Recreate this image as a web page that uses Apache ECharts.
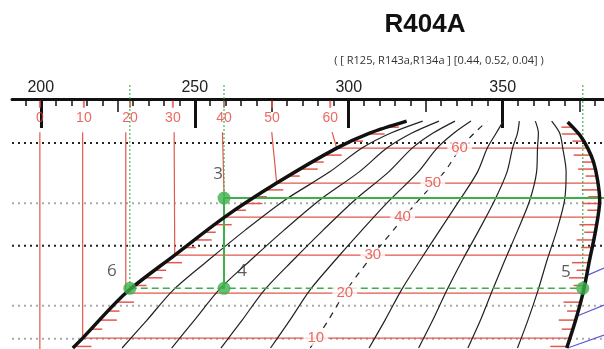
<!DOCTYPE html>
<html>
<head>
<meta charset="utf-8">
<script src="https://cdn.jsdelivr.net/npm/echarts@6/dist/echarts.min.js"></script>
<style>
html,body{margin:0;padding:0;background:#fff;}
#chart{width:604px;height:349px;}
</style>
</head>
<body>
<div id="chart"></div>
<script>
// x: enthalpy (kJ/kg), y: pressure (bar, log scale)
var enthalpyTicks = [200, 250, 300, 350];
var midTicks = [225, 275, 325, 375];
var gridDark = [30, 15];
var gridLight = [20, 10, 8];

var satLiquid = [[210.4,7.52],[213.6,8.04],[227.6,10.9],[243.5,14.08],[259.7,18.2],[276.6,22.9],[296.1,29.0],[306.8,32.1],[318.8,34.8]];
var satVapor = [[370.8,7.52],[373.7,9.08],[376.3,11.12],[378.2,13.6],[380.2,16.67],[381.5,20.4],[380.8,23.37],[379.5,26.4],[377.6,29.0],[375.0,31.7],[371.1,34.6]];

// constant quality lines x = 0.1 .. 0.9, read at these pressures
var qualityP = [7.52, 9.08, 11.12, 13.6, 16.67, 20.4, 24.66, 29.0, 32.1, 34.8];
var q1 = [226.4, 234.5, 243.0, 254.4, 266.4, 279.2, 293.7, 304.3, 313.7, 324.0];
var q2 = [242.5, 249.9, 257.8, 268.1, 279.0, 290.5, 303.3, 312.4, 320.5, 329.3];
var q3 = [258.5, 265.4, 272.6, 281.9, 291.7, 301.9, 312.9, 320.6, 327.4, 334.5];
var q4 = [274.6, 280.9, 287.4, 295.6, 304.3, 313.3, 322.5, 328.7, 334.2, 339.7];
var q5 = [287.5, 293.4, 299.3, 306.5, 314.5, 322.7, 331.0, 336.3, 340.8, 345.0];
var q6 = [306.6, 311.8, 317.1, 323.2, 329.6, 336.0, 341.8, 345.0, 347.9, 350.2];
var q7 = [322.7, 327.3, 331.9, 336.9, 342.3, 347.4, 351.4, 353.2, 354.8, 355.4];
var q8 = [338.7, 342.8, 346.7, 350.7, 354.9, 358.8, 361.0, 361.3, 361.6, 360.6];
var q9 = [354.8, 358.2, 361.5, 364.4, 367.6, 370.1, 370.6, 369.5, 368.5, 365.9];

// isotherms (°C)
var isoTemps = [0, 10, 20, 30, 40, 50, 60];
var isoP = [null, 8.04, 10.9, 14.08, 18.2, 22.9, 29.0];
var isoTopH = [199.7, 213.6, 227.6, 243.3, 259.0, 275.0, 294.6];
var isoLiqH = [199.7, 213.6, 227.6, 243.5, 259.7, 276.6, 296.1];
var isoVapH = [null, 371.8, 376.1, 378.6, 381.2, 380.8, 377.6];
var isoLabelH = [null, 289.3, 298.7, 307.8, 317.5, 327.3, 336.0];
var topLabelH = [199.7, 214.0, 229.0, 242.9, 259.5, 275.1, 294.0];
var isoTopP = 32.3, topLabelP = 35.6, topTickP = 39.0;

// 2 °C hatch marks along the saturation lines
var hatchP = [7.6, 8.54, 9.08, 9.65, 10.25, 11.47, 12.08, 12.71, 13.38, 14.82, 15.6, 16.43, 17.29,
  19.06, 19.95, 20.89, 21.87, 24.01, 25.17, 26.39, 27.66, 30.4, 31.9, 33.4];

// blue lines in the superheated corner
var blue1 = [[377.6,12.3],[382.9,12.9]];
var blue2 = [[373.4,9.27],[382.9,10.05]];
var blue3 = [[371.1,7.52],[382.9,8.2]];

// cycle points
var pointNames = ['3', '4', '5', '6'];
var pointH = [259.5, 259.5, 376.0, 228.9];
var pointP = [20.7, 11.25, 11.25, 11.25];

var H_MIN = 190.65, H_MAX = 382.9, P_MIN = 7.47, P_MAX = 40.4;
var RED = '#e4574c', LABEL_RED = '#e8423a', GREEN = '#3cb04a', DARK = '#111';

var chart = echarts.init(document.getElementById('chart'));
var series = [];

function line(data, color, width, type, z, extra) {
  var s = {
    type: 'line', data: data, symbol: 'none', showSymbol: false, silent: true,
    animation: false, z: z,
    lineStyle: {color: color, width: width, type: type || 'solid'}
  };
  for (var k in extra) s[k] = extra[k];
  series.push(s);
}

// dotted pressure grid
gridDark.forEach(function (p) {
  line([[H_MIN, p], [H_MAX, p]], '#222', 2, [2, 4], 1);
});
gridLight.forEach(function (p) {
  line([[H_MIN, p], [H_MAX, p]], '#aaa', 2, [2, 4], 1);
});

// red isotherms
isoTemps.forEach(function (t, i) {
  if (isoP[i] === null) {
    line([[isoTopH[i], isoTopP], [isoLiqH[i], 7.3]], RED, 1.2, 'solid', 2);
  } else {
    line([[isoTopH[i], isoTopP], [isoLiqH[i], isoP[i]], [isoVapH[i], isoP[i]]], RED, 1.2, 'solid', 2);
  }
});
series.push({
  type: 'scatter', silent: true, animation: false, z: 2,
  symbol: 'rect', symbolSize: [2, 7], itemStyle: {color: RED},
  data: topLabelH.map(function (h) { return [h, topTickP]; })
});
series.push({
  type: 'scatter', silent: true, animation: false, z: 3,
  symbolSize: 1, itemStyle: {color: 'rgba(0,0,0,0)'},
  label: {show: true, position: 'inside', color: LABEL_RED, fontSize: 14,
    fontFamily: 'Liberation Sans', formatter: function (p) { return p.value[2]; }},
  data: topLabelH.map(function (h, i) { return [h, topLabelP, isoTemps[i]]; })
});

// hatch marks
function xOnCurve(pts, y) {
  for (var i = 0; i < pts.length - 1; i++) {
    var a = pts[i], b = pts[i + 1];
    if ((y - a[1]) * (y - b[1]) <= 0 && a[1] !== b[1]) {
      return a[0] + (b[0] - a[0]) * (y - a[1]) / (b[1] - a[1]);
    }
  }
  return null;
}
function hatch(curve, dir) {
  series.push({
    type: 'custom', silent: true, animation: false, z: 2,
    data: hatchP.map(function (p) { return [300, p]; }),
    renderItem: function (params, api) {
      var pts = curve.map(function (c) { return api.coord(c); });
      var y = api.coord([300, api.value(1)])[1];
      var x = xOnCurve(pts, y);
      if (x === null) return;
      var len = params.dataIndex % 2 ? 11 : 17;
      return {type: 'line', shape: {x1: x, y1: y, x2: x + dir * len, y2: y},
        style: {stroke: RED, lineWidth: 1.5}};
    }
  });
}
hatch(satLiquid, 1);
hatch(satVapor, -1);

// quality lines
[q1, q2, q3, q4, q5, q6, q7, q8, q9].forEach(function (q, i) {
  var data = q.map(function (h, j) { return [h, qualityP[j]]; });
  line(data, '#222', 1.2, i === 4 ? [6, 6] : 'solid', 4, {smooth: 0.3});
});

// blue lines
[blue1, blue2, blue3].forEach(function (b) { line(b, '#5a5ad8', 1.2, 'solid', 4); });

// saturation dome
line(satLiquid, DARK, 3.5, 'solid', 6, {smooth: 0.3});
line(satVapor, DARK, 3.5, 'solid', 6, {smooth: 0.3});

// cycle lines
[3, 0, 2].forEach(function (idx) {
  line([[pointH[idx], 44.3], [pointH[idx], pointP[idx]]], GREEN, 1.5, [1.5, 2.5], 5, {clip: false});
});
line([[pointH[0], pointP[0]], [pointH[1], pointP[1]]], GREEN, 2, 'solid', 5);
line([[pointH[0], pointP[0]], [H_MAX, pointP[0]]], GREEN, 2, 'solid', 5);
line([[pointH[3], pointP[3]], [pointH[2], pointP[2]]], GREEN, 1.5, [7, 4], 5);

var pointOffsets = {'3': [-6, -24], '4': [18, -17], '5': [-17, -16], '6': [-18, -17]};
series.push({
  type: 'scatter', silent: true, animation: false, z: 8,
  symbolSize: 13, itemStyle: {color: GREEN},
  label: {show: true, position: 'inside', color: '#333', fontSize: 17, fontFamily: 'Open Sans',
    formatter: function (p) { return p.value[2]; }},
  data: pointNames.map(function (n, i) {
    return {value: [pointH[i], pointP[i], n], label: {offset: pointOffsets[n]}};
  })
});

// isotherm labels inside the dome
series.push({
  type: 'scatter', silent: true, animation: false, z: 7,
  symbolSize: 1, itemStyle: {color: 'rgba(0,0,0,0)'},
  label: {show: true, position: 'inside', color: LABEL_RED, fontSize: 15, fontFamily: 'Liberation Sans',
    backgroundColor: '#fff', padding: [0, 4], formatter: function (p) { return p.value[2]; }},
  data: isoTemps.map(function (t, i) { return isoP[i] === null ? null : [isoLabelH[i], isoP[i], t]; })
    .filter(function (d) { return d; })
});

var minorTicks = [];
for (var h = 195; h <= 380; h += 5) minorTicks.push(h);

function xAxis(ticks, len, width, showLabel, showLine) {
  return {
    type: 'value', position: 'top', min: H_MIN, max: H_MAX,
    axisLine: {show: showLine, lineStyle: {color: DARK, width: 3}},
    axisTick: {show: true, inside: true, length: len, customValues: ticks,
      lineStyle: {color: DARK, width: width}},
    axisLabel: {show: showLabel, customValues: ticks, color: '#222', fontSize: 16,
      fontFamily: 'Liberation Sans', margin: 3},
    splitLine: {show: false}
  };
}

chart.setOption({
  animation: false,
  backgroundColor: '#fff',
  title: [
    {text: 'R404A', left: 420, top: 7, textAlign: 'center',
      textStyle: {fontSize: 26, fontWeight: 'bold', color: '#111', fontFamily: 'Liberation Sans'}},
    {text: '( [ R125, R143a,R134a ] [0.44, 0.52, 0.04] )', left: 434, top: 50, textAlign: 'center',
      textStyle: {fontSize: 11, fontWeight: 'normal', color: '#333', fontFamily: 'Open Sans'}}
  ],
  grid: {left: 12, right: 0, top: 99, bottom: 0},
  xAxis: [
    xAxis(minorTicks, 7, 1.5, false, true),
    xAxis(midTicks, 13, 1.5, false, false),
    xAxis(enthalpyTicks, 29, 3, true, false)
  ],
  yAxis: {
    type: 'log', logBase: 10, min: P_MIN, max: P_MAX,
    axisLine: {show: false}, axisTick: {show: false}, axisLabel: {show: false},
    splitLine: {show: false}
  },
  series: series
});
</script>
</body>
</html>
